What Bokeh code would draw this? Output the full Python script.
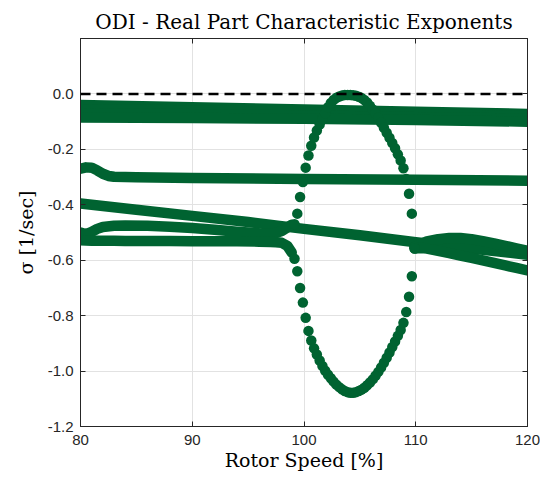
from bokeh.plotting import figure
from bokeh.models import (Range1d, FixedTicker, LinearAxis, Span,
                          PrintfTickFormatter, CustomLabelingPolicy)
from bokeh.embed import file_html
from bokeh.resources import INLINE

GREEN = "#006331"
AXIS = "#262626"
GRID = "#e2e2e2"

x_ticks = [80, 90, 100, 110, 120]
y_ticks = [-1.2, -1.0, -0.8, -0.6, -0.4, -0.2, 0.0]
stability_limit = 0.0

# Rotor speed [%] knots and real parts sigma [1/sec] of each branch

# four lightly damped modes close to the stability limit
band_speed = [80, 90, 100, 110, 120]
band_1 = [-0.040, -0.048, -0.056, -0.064, -0.072]
band_2 = [-0.055, -0.060, -0.066, -0.073, -0.080]
band_3 = [-0.070, -0.073, -0.078, -0.084, -0.090]
band_4 = [-0.085, -0.087, -0.090, -0.094, -0.100]

mode_b_speed = [80, 80.5, 81, 81.5, 82, 82.5, 83, 85, 90, 100, 110, 120]
mode_b = [-0.270, -0.265, -0.266, -0.276, -0.288, -0.296, -0.299, -0.301,
          -0.303, -0.307, -0.310, -0.313]

mode_c_speed = [80, 85, 90, 95, 100, 105, 110, 115, 120]
mode_c = [-0.395, -0.418, -0.440, -0.462, -0.487, -0.510, -0.535, -0.558, -0.580]

# coupled pair below the lock-in region
pair_left_speed = [80, 80.5, 81, 81.5, 82, 83, 84, 86, 88, 90, 92, 94, 96,
                   97, 97.5, 98, 98.5, 98.9]
pair_upper_left = [-0.500, -0.506, -0.498, -0.487, -0.480, -0.476, -0.475,
                   -0.476, -0.479, -0.484, -0.490, -0.497, -0.503, -0.504,
                   -0.502, -0.495, -0.482, -0.472]
pair_lower_left = [-0.528, -0.529, -0.530, -0.530, -0.530, -0.530, -0.531,
                   -0.531, -0.531, -0.532, -0.532, -0.532, -0.533, -0.534,
                   -0.535, -0.537, -0.548, -0.572]

# lock-in region: the pair splits into a destabilised and a damped branch
lock_speed = [99.15, 99.40, 99.65, 99.90, 100.15, 100.40, 100.65, 100.90,
              101.15, 101.40, 101.65, 101.90, 102.15, 102.40, 102.65, 102.90,
              103.15, 103.40, 103.65, 103.90, 104.15, 104.40, 104.65, 104.90,
              105.15, 105.40, 105.65, 105.90, 106.15, 106.40, 106.65, 106.90,
              107.15, 107.40, 107.65, 107.90, 108.15, 108.40, 108.65, 108.90,
              109.15, 109.40, 109.65, 109.90]
lock_upper = [-0.470, -0.432, -0.372, -0.318, -0.266, -0.222, -0.187, -0.157,
              -0.132, -0.110, -0.090, -0.070, -0.048, -0.033, -0.022, -0.014,
              -0.009, -0.006, -0.004, -0.004, -0.004, -0.005, -0.007, -0.010,
              -0.015, -0.022, -0.031, -0.043, -0.056, -0.070, -0.086, -0.104,
              -0.122, -0.140, -0.158, -0.177, -0.196, -0.218, -0.240, -0.268,
              -0.307, -0.360, -0.432, -0.552]
lock_lower = [-0.595, -0.640, -0.700, -0.753, -0.808, -0.855, -0.890, -0.918,
              -0.940, -0.962, -0.982, -0.999, -1.013, -1.026, -1.038, -1.049,
              -1.058, -1.066, -1.072, -1.076, -1.078, -1.078, -1.076, -1.072,
              -1.067, -1.060, -1.051, -1.041, -1.030, -1.017, -1.003, -0.987,
              -0.970, -0.952, -0.933, -0.913, -0.893, -0.873, -0.852, -0.826,
              -0.787, -0.732, -0.658, -0.558]

# coupled pair above the lock-in region
pair_right_speed = [109.9, 110.5, 111, 112, 113, 114, 115, 116, 117, 118, 119, 120]
pair_upper_right = [-0.552, -0.540, -0.532, -0.524, -0.520, -0.520, -0.524,
                    -0.531, -0.539, -0.548, -0.557, -0.566]
pair_lower_right = [-0.558, -0.556, -0.558, -0.566, -0.574, -0.583, -0.592,
                    -0.601, -0.610, -0.619, -0.628, -0.637]

p = figure(width=540, height=477,
           x_range=Range1d(80, 120), y_range=Range1d(-1.2, 0.2),
           output_backend="svg", toolbar_location=None,
           min_border_left=80, min_border_right=13,
           min_border_top=38, min_border_bottom=51,
           background_fill_color="white", border_fill_color="white")

p.title.text = "ODI - Real Part Characteristic Exponents"
p.title.align = "center"
p.title.text_font = "DejaVu Serif"
p.title.text_font_size = "20px"
p.title.text_font_style = "normal"
p.title.text_color = "black"

p.outline_line_color = AXIS
p.outline_line_width = 1

for ax in (p.xaxis[0], p.yaxis[0]):
    ax.axis_line_color = AXIS
    ax.major_tick_line_color = AXIS
    ax.major_tick_in = 5
    ax.major_tick_out = 0
    ax.minor_tick_line_color = None
    ax.major_label_text_font = "Liberation Sans"
    ax.major_label_text_font_size = "15px"
    ax.major_label_text_color = AXIS
    ax.axis_label_text_font = "DejaVu Serif"
    ax.axis_label_text_font_size = "19px"
    ax.axis_label_text_font_style = "normal"
    ax.axis_label_text_color = "black"

p.xaxis.ticker = FixedTicker(ticks=x_ticks)
p.yaxis.ticker = FixedTicker(ticks=y_ticks)
p.yaxis.formatter = PrintfTickFormatter(format="%.1f")
p.xaxis.axis_label = "Rotor Speed [%]"
p.yaxis.axis_label = "σ [1/sec]"
p.xaxis.major_label_standoff = 8
p.yaxis.major_label_standoff = 7
p.xaxis.axis_label_standoff = 1
p.yaxis.axis_label_standoff = 8

# tick marks on the opposite sides of the box, without labels
no_labels = CustomLabelingPolicy(code="""
const shown = [...indices]
for (const i of shown) indices.unset(i)
return indices
""")
top_axis = LinearAxis(ticker=FixedTicker(ticks=x_ticks))
right_axis = LinearAxis(ticker=FixedTicker(ticks=y_ticks))
for ax in (top_axis, right_axis):
    ax.axis_line_color = AXIS
    ax.major_tick_line_color = AXIS
    ax.major_tick_in = 5
    ax.major_tick_out = 0
    ax.minor_tick_line_color = None
    ax.major_label_text_font_size = "0px"
    ax.major_label_standoff = 0
    ax.major_label_policy = no_labels
p.add_layout(top_axis, "above")
p.add_layout(right_axis, "right")

p.xgrid.grid_line_color = GRID
p.ygrid.grid_line_color = GRID
p.xgrid.ticker = FixedTicker(ticks=x_ticks)
p.ygrid.ticker = FixedTicker(ticks=y_ticks)

def branch(xs, ys):
    p.line(xs, ys, line_color=GREEN, line_width=10.5,
           line_cap="round", line_join="round")

for vals in (band_1, band_2, band_3, band_4):
    branch(band_speed, vals)
branch(mode_b_speed, mode_b)
branch(mode_c_speed, mode_c)
branch(pair_left_speed, pair_upper_left)
branch(pair_left_speed, pair_lower_left)
branch(pair_right_speed, pair_upper_right)
branch(pair_right_speed, pair_lower_right)

p.scatter(lock_speed, lock_upper, marker="circle", size=10.5,
          fill_color=GREEN, line_color=None)
p.scatter(lock_speed, lock_lower, marker="circle", size=10.5,
          fill_color=GREEN, line_color=None)

limit = Span(location=stability_limit, dimension="width", line_color="black",
             line_width=2.5, line_dash="10 6", level="overlay")
p.add_layout(limit)

open("out.html", "w").write(file_html(p, INLINE))
